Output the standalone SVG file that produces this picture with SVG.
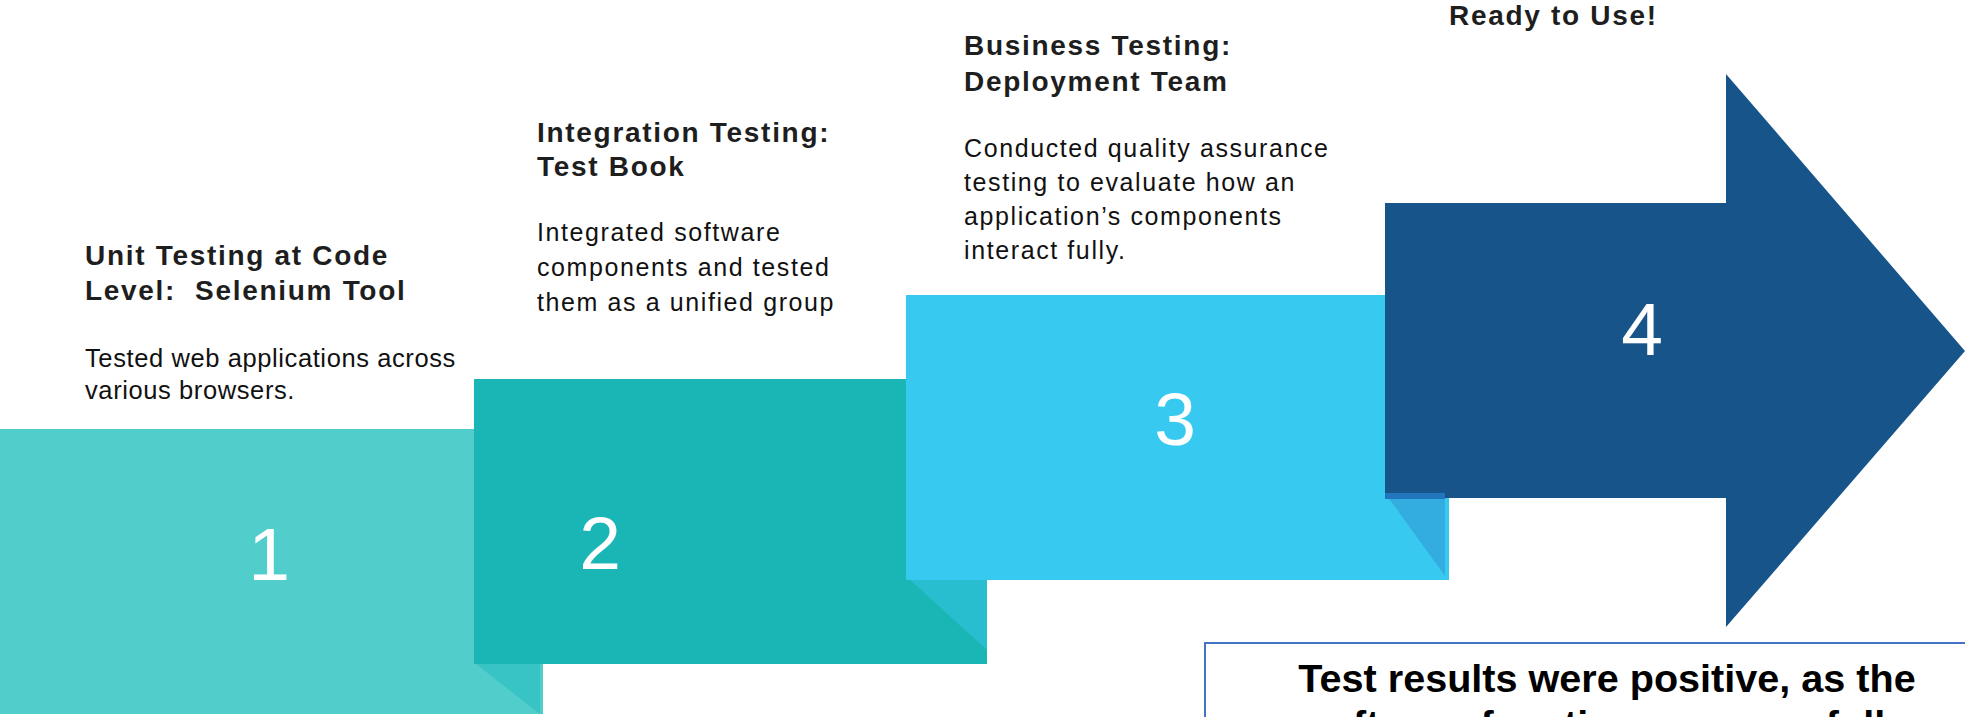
<svg xmlns="http://www.w3.org/2000/svg" width="1965" height="717" viewBox="0 0 1965 717">
<style>
.h{font-family:"Liberation Sans",Arial,sans-serif;font-weight:bold;font-size:28px;letter-spacing:1.7px;fill:#1e1e1e}
.b{font-family:"Liberation Sans",Arial,sans-serif;font-size:25px;letter-spacing:1.6px;fill:#111}
.n{font-family:"Liberation Sans",Arial,sans-serif;font-size:75px;fill:#fff;text-anchor:middle}
.r{font-family:"Liberation Sans",Arial,sans-serif;font-weight:bold;font-size:39.6px;fill:#000;text-anchor:middle}
</style>
<rect width="1965" height="717" fill="#fff"/>
<g id="step1">
<rect x="0" y="429" width="543" height="285" fill="#51CDCC"/>
<polygon points="476,664 540,664 540,714" fill="#38C4C5"/>
<text class="n" x="269" y="580">1</text>
</g>
<g id="step2">
<rect x="474" y="379" width="513" height="285" fill="#1AB6B6"/>
<polygon points="909,579 987,579 987,650" fill="#29BECF"/>
<text class="n" x="600" y="569">2</text>
</g>
<g id="step3">
<rect x="906" y="295" width="543" height="285" fill="#38C9F0"/>
<polygon points="1385,493 1445,493 1445,576" fill="#33ADE0"/>
<text class="n" x="1175" y="445">3</text>
</g>
<g id="step4">
<polygon points="1385,203 1726,203 1726,74 1965,351 1726,627 1726,498 1385,498" fill="#16548A"/>
<rect x="1385" y="493" width="60" height="6" fill="#2176BE"/>
<text class="n" x="1642" y="355">4</text>
</g>
<g id="text1">
<text class="h" x="85" y="265">Unit Testing at Code</text>
<text class="h" x="85" y="300" xml:space="preserve">Level:  Selenium Tool</text>
<text class="b" x="85" y="367" style="font-size:25.5px;letter-spacing:0.6px">Tested web applications across</text>
<text class="b" x="85" y="399" style="font-size:25.5px;letter-spacing:0.6px">various browsers.</text>
</g>
<g id="text2">
<text class="h" x="537" y="142">Integration Testing:</text>
<text class="h" x="537" y="176">Test Book</text>
<text class="b" x="537" y="241">Integrated software</text>
<text class="b" x="537" y="276">components and tested</text>
<text class="b" x="537" y="311">them as a unified group</text>
</g>
<g id="text3">
<text class="h" x="964" y="55">Business Testing:</text>
<text class="h" x="964" y="91">Deployment Team</text>
<text class="b" x="964" y="157">Conducted quality assurance</text>
<text class="b" x="964" y="191">testing to evaluate how an</text>
<text class="b" x="964" y="225">application’s components</text>
<text class="b" x="964" y="259">interact fully.</text>
</g>
<g id="text4">
<text class="h" x="1449" y="25">Ready to Use!</text>
</g>
<g id="result">
<rect x="1205" y="643" width="800" height="120" fill="#fff" stroke="#4472C4" stroke-width="2"/>
<text class="r" x="1607" y="692">Test results were positive, as the</text>
<text class="r" x="1607" y="738">software functions successfully</text>
</g>
<g id="connectors"/>
</svg>
